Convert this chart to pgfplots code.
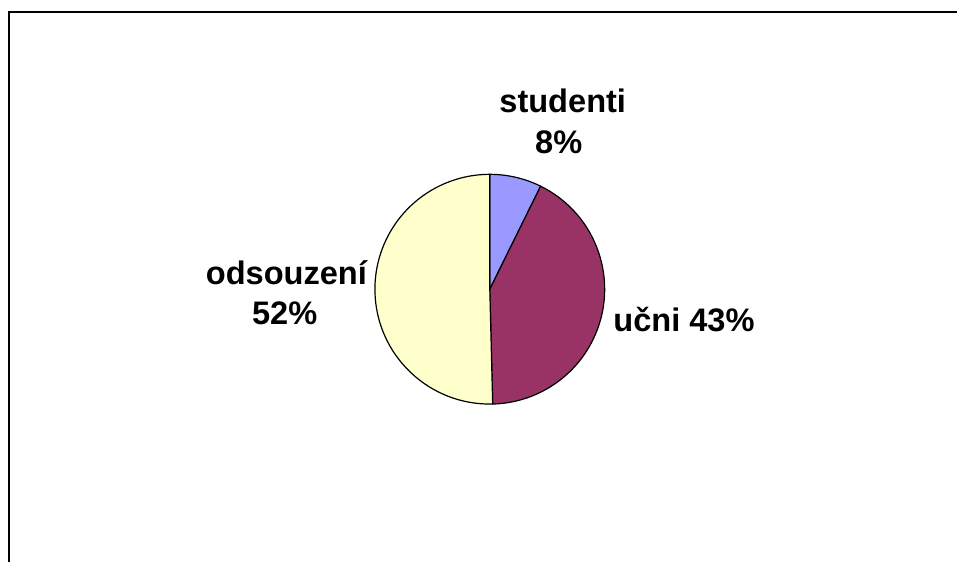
\documentclass[border=0pt]{standalone}
\usepackage{fontspec}
\setmainfont{Liberation Sans}
\usepackage{pgfplots}
\usepackage{pgfplotstable}
\pgfplotsset{compat=1.18}

\definecolor{cstud}{HTML}{9999FF}
\definecolor{cucni}{HTML}{993366}
\definecolor{codso}{HTML}{FFFFCC}

% shares of the circle as drawn (percent)
\pgfplotstableread{
name share
studenti 7.3
ucni 42.3
odsouzeni 50.4
}\piedata

\tikzset{lbl/.style={anchor=base, inner sep=0pt, font=\fontsize{16.3}{19}\selectfont\bfseries}}

\begin{document}
\begin{tikzpicture}
\pgfplotstablegetelem{0}{share}\of\piedata \let\sa\pgfplotsretval
\pgfplotstablegetelem{1}{share}\of\piedata \let\sb\pgfplotsretval
\pgfplotstablegetelem{2}{share}\of\piedata \let\sc\pgfplotsretval
\pgfmathsetmacro{\aA}{90}
\pgfmathsetmacro{\aB}{\aA-3.6*\sa}
\pgfmathsetmacro{\aC}{\aB-3.6*\sb}
\pgfmathsetmacro{\aD}{\aC-3.6*\sc}
\begin{axis}[
    hide axis, scale only axis,
    width=479pt, height=281.5pt,
    xmin=0, xmax=958, ymin=0, ymax=563,
    clip=false,
]
\path (axis cs:0,0) (axis cs:958,563);
\draw[line width=1pt] (axis cs:9,0) -- (axis cs:9,550.5) -- (axis cs:958,550.5);

\filldraw[fill=cstud, draw=black, line width=0.6pt, line join=round]
  (axis cs:490.3,273.5) -- ++(\aA:57.5pt) arc[start angle=\aA, end angle=\aB, radius=57.5pt] -- cycle;
\filldraw[fill=cucni, draw=black, line width=0.6pt, line join=round]
  (axis cs:490.3,273.5) -- ++(\aB:57.5pt) arc[start angle=\aB, end angle=\aC, radius=57.5pt] -- cycle;
\filldraw[fill=codso, draw=black, line width=0.6pt, line join=round]
  (axis cs:490.3,273.5) -- ++(\aC:57.5pt) arc[start angle=\aC, end angle=\aD, radius=57.5pt] -- cycle;

\node[lbl] at (axis cs:563.3,450.3) {studenti};
\node[lbl] at (axis cs:559.3,409) {8\%};
\node[lbl] at (axis cs:286.7,278) {odsouzení};
\node[lbl] at (axis cs:285,238) {52\%};
\node[lbl] at (axis cs:684.7,231.3) {učni 43\%};
\end{axis}
\end{tikzpicture}
\end{document}
